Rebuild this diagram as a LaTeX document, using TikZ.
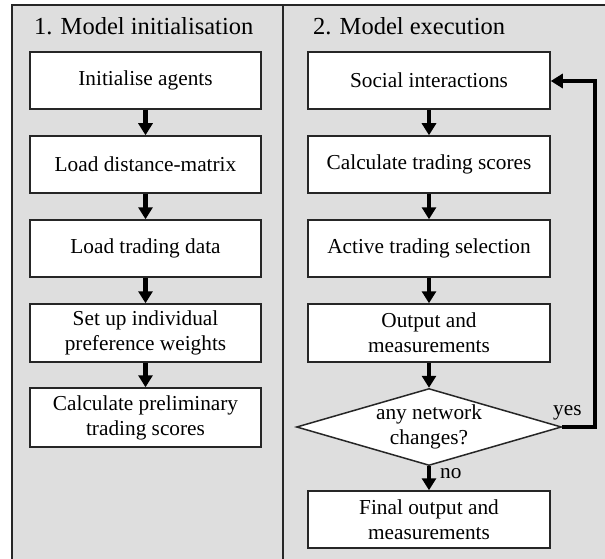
\documentclass[tikz,border=0pt]{standalone}
\usepackage{fontspec}
\setmainfont{Liberation Serif}
\usetikzlibrary{shapes.geometric,arrows.meta}
\begin{document}
\begin{tikzpicture}[x=1pt,y=-1pt,
  font=\fontsize{21.3}{25}\selectfont,
  stepbox/.style={draw=black!85,line width=1.5pt,fill=white,align=center,inner sep=0pt},
  flow/.style={line width=4.2pt,-{Triangle[length=12pt,width=14pt]}},
  lbl/.style={inner sep=0pt,anchor=base west}]
\useasboundingbox (0,0) rectangle (605,559);
\fill[fill=black!13] (12,5) rectangle (605,559);
\draw[line width=1.6pt,black!85] (12,559) -- (12,5) -- (605,5);
\draw[line width=1.6pt,black!85] (283,5) -- (283,559);
\node[lbl,font=\fontsize{24.5}{28}\selectfont] (t1) at (34,35) {1. Model initialisation};
\node[lbl,font=\fontsize{24.5}{28}\selectfont] (t2) at (313,35) {2. Model execution};
% left column
\node[stepbox,minimum width=231pt,minimum height=57pt] (a1) at (145.5,80.5) {Initialise agents};
\node[stepbox,minimum width=231pt,minimum height=57pt] (a2) at (145.5,164.5) {Load distance-matrix};
\node[stepbox,minimum width=231pt,minimum height=57pt] (a3) at (145.5,248.5) {Load trading data};
\node[stepbox,minimum width=231pt,minimum height=58pt] (a4) at (145.5,333) {Set up individual\\preference weights};
\node[stepbox,minimum width=231pt,minimum height=59pt] (a5) at (145.5,417.5) {Calculate preliminary\\trading scores};
\draw[flow] (a1) -- (a2);
\draw[flow] (a2) -- (a3);
\draw[flow] (a3) -- (a4);
\draw[flow] (a4) -- (a5);
% right column
\node[stepbox,minimum width=242pt,minimum height=57pt] (b1) at (429,80.5) {Social interactions};
\node[stepbox,minimum width=242pt,minimum height=57pt] (b2) at (429,164.5) {Calculate trading scores};
\node[stepbox,minimum width=242pt,minimum height=57pt] (b3) at (429,248.5) {Active trading selection};
\node[stepbox,minimum width=242pt,minimum height=58pt] (b4) at (429,333) {Output and\\measurements};
\node[draw=black!85,line width=1.5pt,fill=white,diamond,aspect=3.45,inner sep=0pt,
  minimum width=265pt,minimum height=77pt,align=center] (d) at (429,427) {any network\\changes?};
\node[stepbox,minimum width=242pt,minimum height=57pt] (b5) at (429,519.5) {Final output and\\measurements};
\draw[flow] (b1) -- (b2);
\draw[flow] (b2) -- (b3);
\draw[flow] (b3) -- (b4);
\draw[flow] (b4) -- (d);
\draw[flow] (d) -- (b5);
\coordinate (c1) at (595,427);
\coordinate (c2) at (595,81);
\draw[flow] (d.east) -- (c1) -- (c2) -- (b1.east |- c2);
\node[lbl] (yes) at (553,415) {yes};
\node[lbl] (no) at (440,478) {no};
\end{tikzpicture}
\end{document}
